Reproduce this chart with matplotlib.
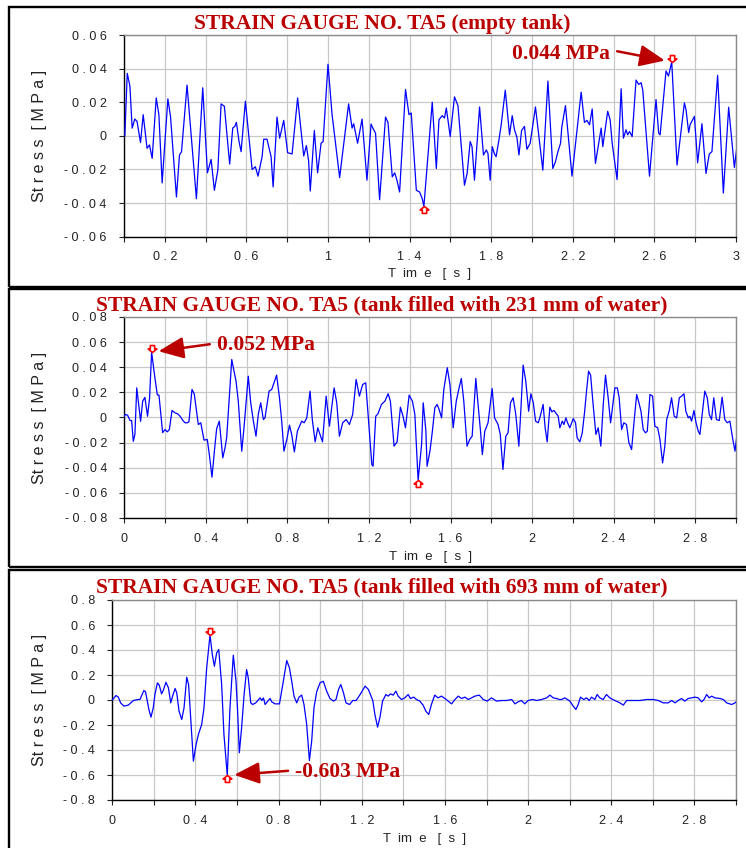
import numpy as np
import matplotlib
matplotlib.use("Agg")
import matplotlib.pyplot as plt
from matplotlib.patches import Rectangle
from matplotlib.path import Path


# DATOS - tiempo [s] y tension [MPa] de la galga TA5
titles = ["STRAIN GAUGE NO. TA5 (empty tank)",
          "STRAIN GAUGE NO. TA5 (tank filled with 231 mm of water)",
          "STRAIN GAUGE NO. TA5 (tank filled with 693 mm of water)"]

t1 = [0.004, 0.016, 0.029, 0.040, 0.053, 0.064, 0.081, 0.094, 0.113, 0.125, 0.138, 0.158, 0.171, 0.187,
      0.215, 0.228, 0.257, 0.272, 0.282, 0.309, 0.355, 0.386, 0.409, 0.427, 0.443, 0.460, 0.476, 0.492,
      0.518, 0.533, 0.543, 0.551, 0.564, 0.574, 0.595, 0.628, 0.644, 0.657, 0.677, 0.685, 0.701, 0.721,
      0.731, 0.750, 0.763, 0.783, 0.802, 0.824, 0.851, 0.873, 0.881, 0.894, 0.905, 0.913, 0.933, 0.949,
      0.966, 0.976, 1.000, 1.020, 1.057, 1.101, 1.118, 1.126, 1.145, 1.167, 1.191, 1.211, 1.220, 1.233,
      1.253, 1.282, 1.294, 1.315, 1.327, 1.338, 1.351, 1.380, 1.397, 1.408, 1.433, 1.449, 1.462, 1.470,
      1.511, 1.531, 1.544, 1.560, 1.571, 1.580, 1.599, 1.620, 1.637, 1.669, 1.682, 1.697, 1.706, 1.718,
      1.743, 1.762, 1.776, 1.784, 1.795, 1.805, 1.816, 1.824, 1.838, 1.849, 1.869, 1.890, 1.903, 1.914,
      1.926, 1.936, 1.949, 1.963, 1.975, 1.991, 2.017, 2.053, 2.078, 2.102, 2.115, 2.127, 2.140, 2.146,
      2.164, 2.196, 2.241, 2.257, 2.269, 2.282, 2.295, 2.311, 2.339, 2.347, 2.371, 2.383, 2.393, 2.417,
      2.437, 2.448, 2.461, 2.469, 2.478, 2.491, 2.510, 2.523, 2.535, 2.543, 2.576, 2.608, 2.621, 2.628,
      2.657, 2.669, 2.685, 2.711, 2.747, 2.755, 2.768, 2.775, 2.796, 2.812, 2.833, 2.853, 2.869, 2.882,
      2.910, 2.938, 2.964, 2.992, 3.005]
s1 = [0.0, 0.0372, 0.0296, 0.0046, 0.010, 0.0086, -0.004, 0.0126, -0.0074, -0.0054, -0.0134, 0.0226, 0.0126, -0.028,
      0.022, 0.0116, -0.0364, -0.0114, -0.0094, 0.0302, -0.0374, 0.0286, -0.022, -0.014, -0.0324, -0.0204, 0.019, 0.0176,
      -0.0168, 0.0046, 0.0056, 0.008, -0.0034, -0.0094, 0.0206, -0.020, -0.0184, -0.024, -0.0124, -0.002, -0.002, -0.0124,
      -0.0304, 0.0112, -0.0014, 0.0092, -0.010, -0.0108, 0.0226, -0.0024, -0.012, -0.0058, -0.015, -0.0328, 0.0032, -0.022,
      -0.0044, -0.0034, 0.0426, 0.0126, -0.0248, 0.019, 0.0046, 0.0072, -0.0044, 0.010, -0.0264, 0.007, 0.0046, 0.0016,
      -0.038, 0.0112, 0.008, -0.0244, -0.022, -0.0264, -0.0334, 0.0276, 0.0126, 0.0136, -0.0324, -0.0334, -0.0374, -0.042,
      0.020, -0.0194, 0.0096, 0.012, 0.0106, 0.0166, -0.0004, 0.0232, 0.018, -0.0294, -0.0224, -0.0034, -0.0064, -0.0264,
      0.0172, -0.0114, -0.0084, -0.0104, -0.0264, -0.0064, -0.0108, -0.0124, -0.0024, 0.0066, 0.0272, 0.0006, 0.012, 0.0036,
      -0.0008, -0.0114, 0.0032, 0.0056, -0.008, -0.0044, 0.0172, -0.0204, 0.0326, -0.0194, -0.0154, -0.0094, -0.0044, 0.0052,
      0.018, -0.024, 0.026, 0.008, 0.0092, 0.0066, 0.016, -0.0164, 0.0046, -0.0064, 0.0146, 0.0096, -0.0044, -0.026,
      0.028, -0.0014, 0.0036, 0.0006, 0.0026, -0.0004, 0.0332, 0.0306, 0.0316, 0.0272, -0.024, 0.0216, 0.0016, 0.0006,
      0.0386, 0.0356, 0.044, -0.0174, 0.0196, 0.0156, 0.002, 0.0066, 0.0116, -0.016, 0.0072, -0.0224, -0.0108, -0.0094,
      0.036, -0.034, 0.017, -0.0188, -0.006]

t2 = [0.000, 0.005, 0.016, 0.028, 0.036, 0.044, 0.052, 0.061, 0.080, 0.090, 0.101, 0.114, 0.124, 0.134,
      0.150, 0.162, 0.170, 0.188, 0.200, 0.211, 0.221, 0.234, 0.249, 0.262, 0.273, 0.290, 0.298, 0.309,
      0.317, 0.332, 0.343, 0.363, 0.375, 0.391, 0.407, 0.417, 0.430, 0.445, 0.453, 0.466, 0.483, 0.494,
      0.502, 0.515, 0.527, 0.538, 0.548, 0.559, 0.576, 0.587, 0.608, 0.620, 0.633, 0.646, 0.657, 0.669,
      0.682, 0.690, 0.710, 0.723, 0.734, 0.747, 0.761, 0.772, 0.783, 0.797, 0.810, 0.821, 0.834, 0.849,
      0.870, 0.882, 0.895, 0.911, 0.922, 0.936, 0.949, 0.960, 0.972, 0.990, 1.006, 1.029, 1.042, 1.055,
      1.071, 1.088, 1.104, 1.120, 1.137, 1.153, 1.169, 1.184, 1.202, 1.214, 1.220, 1.233, 1.244, 1.261,
      1.278, 1.294, 1.305, 1.323, 1.338, 1.354, 1.367, 1.379, 1.397, 1.413, 1.425, 1.441, 1.458, 1.466,
      1.479, 1.485, 1.499, 1.510, 1.523, 1.534, 1.544, 1.556, 1.567, 1.584, 1.597, 1.613, 1.628, 1.642,
      1.653, 1.665, 1.681, 1.694, 1.706, 1.724, 1.735, 1.747, 1.756, 1.768, 1.784, 1.804, 1.816, 1.833,
      1.844, 1.857, 1.871, 1.882, 1.894, 1.907, 1.920, 1.935, 1.945, 1.956, 1.969, 1.983, 1.994, 2.006,
      2.017, 2.030, 2.038, 2.054, 2.064, 2.074, 2.087, 2.097, 2.107, 2.116, 2.128, 2.136, 2.148, 2.156,
      2.166, 2.174, 2.185, 2.202, 2.213, 2.221, 2.234, 2.246, 2.257, 2.267, 2.277, 2.287, 2.300, 2.313,
      2.324, 2.337, 2.349, 2.360, 2.373, 2.385, 2.395, 2.406, 2.418, 2.427, 2.439, 2.450, 2.463, 2.475,
      2.488, 2.501, 2.513, 2.524, 2.534, 2.545, 2.556, 2.565, 2.578, 2.591, 2.602, 2.616, 2.627, 2.640,
      2.651, 2.660, 2.673, 2.684, 2.697, 2.709, 2.722, 2.733, 2.745, 2.754, 2.766, 2.774, 2.782, 2.794,
      2.804, 2.815, 2.823, 2.834, 2.847, 2.859, 2.869, 2.880, 2.891, 2.904, 2.918, 2.932, 2.945, 2.957,
      2.970, 2.983, 2.995, 3.008]
s2 = [0.001, 0.0024, 0.0019, -0.0024, -0.0024, -0.019, -0.0135, 0.0236, -0.003, 0.013, 0.016, 0.001, 0.0157, 0.052,
      0.0316, 0.018, 0.0178, -0.012, -0.0096, -0.0114, -0.0096, 0.0056, 0.0037, 0.0029, 0.0011, -0.0029, -0.0042, -0.0042,
      -0.0034, 0.0223, 0.0189, -0.0056, -0.0042, -0.018, -0.0175, -0.0295, -0.0475, -0.0215, -0.0088, -0.0029, -0.0321, -0.0242,
      -0.0162, 0.0157, 0.0462, 0.0369, 0.029, 0.013, -0.0268, -0.0082, 0.0329, 0.0117, -0.0029, -0.0149, 0.0024, 0.0117,
      -0.0016, -0.0003, 0.021, 0.0223, 0.0276, 0.0337, 0.0157, -0.0029, -0.0268, -0.0175, -0.0061, -0.0135, -0.0274, -0.0109,
      -0.0029, -0.0042, -0.0003, 0.021, -0.0016, -0.0194, -0.0082, -0.0135, -0.0194, 0.017, -0.0069, 0.0236, 0.0117, -0.0149,
      -0.0042, -0.0016, -0.0056, 0.0024, 0.0303, 0.017, 0.0263, 0.0276, -0.0109, -0.0374, -0.0388, 0.001, 0.0029, 0.0104,
      0.013, 0.0189, 0.013, -0.0228, -0.0194, 0.0082, 0.001, -0.0082, 0.0178, 0.013, 0.0024, -0.050, -0.0215, 0.0117,
      -0.0104, -0.0388, -0.0268, -0.0122, 0.0077, 0.0104, 0.0064, -0.0003, 0.0223, 0.0396, 0.0263, -0.0082, 0.013, 0.0236,
      0.0311, 0.013, -0.0228, -0.0175, -0.0149, 0.0311, 0.0104, -0.0109, -0.0295, -0.0109, -0.0042, 0.0231, -0.0003, -0.0056,
      -0.0135, -0.0414, -0.0149, -0.0122, 0.0117, 0.0157, 0.0024, -0.0228, 0.0064, 0.0417, 0.029, 0.005, 0.0189, 0.0117,
      -0.0029, -0.0042, -0.0003, 0.0104, -0.0082, -0.0194, 0.0082, 0.0045, 0.0056, 0.0037, 0.001, -0.0082, -0.0029, -0.0056,
      -0.0003, -0.0042, -0.0082, -0.0008, -0.0042, -0.0162, -0.0194, -0.0122, 0.0037, 0.021, 0.0369, 0.0337, 0.009, -0.0135,
      -0.0082, -0.0228, 0.0104, 0.0337, 0.0157, -0.0042, 0.009, 0.0236, 0.0236, 0.0157, -0.0096, -0.0042, -0.0056, -0.0202,
      -0.0255, -0.0016, 0.0183, 0.0117, 0.005, -0.0096, -0.0122, -0.0109, 0.0183, 0.017, -0.0069, -0.0082, -0.0175, -0.0361,
      -0.0228, -0.0016, 0.0056, 0.0157, 0.001, -0.0003, 0.0157, 0.017, 0.0189, 0.005, -0.0003, 0.001, -0.0029, 0.0056,
      -0.0042, -0.0109, -0.0135, 0.0024, 0.021, 0.0157, 0.0024, -0.0016, 0.0157, -0.0016, -0.0024, 0.0162, -0.0016, -0.0042,
      -0.0029, -0.0162, -0.0268, -0.0096]

t3 = [0.000, 0.018, 0.029, 0.040, 0.056, 0.077, 0.101, 0.125, 0.133, 0.152, 0.160, 0.176, 0.186, 0.197,
      0.205, 0.217, 0.226, 0.237, 0.245, 0.258, 0.270, 0.281, 0.290, 0.302, 0.310, 0.321, 0.334, 0.345,
      0.358, 0.367, 0.377, 0.390, 0.403, 0.414, 0.430, 0.441, 0.454, 0.470, 0.481, 0.491, 0.502, 0.512,
      0.526, 0.537, 0.553, 0.566, 0.582, 0.595, 0.602, 0.611, 0.622, 0.634, 0.646, 0.654, 0.666, 0.675,
      0.690, 0.700, 0.711, 0.719, 0.727, 0.735, 0.748, 0.759, 0.767, 0.783, 0.804, 0.820, 0.839, 0.852,
      0.863, 0.874, 0.887, 0.898, 0.911, 0.922, 0.935, 0.948, 0.959, 0.970, 0.983, 0.999, 1.015, 1.031,
      1.047, 1.064, 1.076, 1.088, 1.099, 1.112, 1.124, 1.141, 1.157, 1.173, 1.192, 1.216, 1.232, 1.253,
      1.263, 1.276, 1.287, 1.300, 1.316, 1.327, 1.338, 1.351, 1.364, 1.375, 1.391, 1.407, 1.423, 1.434,
      1.450, 1.463, 1.479, 1.495, 1.508, 1.522, 1.535, 1.551, 1.567, 1.583, 1.600, 1.616, 1.632, 1.648,
      1.664, 1.680, 1.696, 1.712, 1.728, 1.744, 1.765, 1.784, 1.803, 1.824, 1.848, 1.872, 1.896, 1.921,
      1.937, 1.952, 1.968, 1.984, 2.000, 2.021, 2.041, 2.065, 2.089, 2.105, 2.121, 2.137, 2.150, 2.161,
      2.177, 2.201, 2.217, 2.230, 2.241, 2.252, 2.268, 2.281, 2.294, 2.305, 2.321, 2.332, 2.345, 2.361,
      2.377, 2.393, 2.417, 2.442, 2.458, 2.474, 2.506, 2.538, 2.570, 2.602, 2.626, 2.650, 2.674, 2.690,
      2.707, 2.722, 2.738, 2.754, 2.770, 2.786, 2.802, 2.818, 2.835, 2.846, 2.859, 2.871, 2.883, 2.899,
      2.923, 2.939, 2.955, 2.979, 2.995, 3.008]
s3 = [0.0, 0.036, 0.023, -0.023, -0.049, -0.041, -0.004, 0.004, 0.004, 0.076, 0.065, -0.076, -0.137, -0.063,
      0.044, 0.137, 0.118, 0.049, 0.076, 0.142, 0.097, -0.023, 0.031, 0.092, 0.057, -0.089, -0.156, -0.063,
      0.182, 0.124, -0.142, -0.489, -0.356, -0.276, -0.196, -0.063, 0.257, 0.52, 0.364, 0.270, 0.377, 0.404,
      0.124, -0.276, -0.603, -0.063, 0.358, 0.150, -0.063, -0.422, -0.222, 0.044, 0.244, 0.177, -0.023, -0.036,
      -0.023, -0.004, 0.017, -0.004, 0.017, -0.036, -0.009, 0.012, -0.015, -0.031, -0.031, 0.124, 0.316, 0.257,
      0.150, 0.031, -0.023, 0.023, 0.039, -0.036, -0.196, -0.484, -0.329, -0.063, 0.065, 0.137, 0.150, 0.071,
      0.012, -0.009, 0.004, 0.084, 0.124, 0.057, -0.023, -0.036, -0.004, -0.004, 0.044, 0.111, 0.084, -0.004,
      -0.116, -0.217, -0.142, -0.009, 0.044, 0.031, 0.049, 0.039, 0.071, 0.031, 0.004, 0.017, 0.044, 0.012,
      0.023, 0.004, -0.009, -0.041, -0.089, -0.116, -0.036, 0.039, 0.017, 0.031, 0.012, -0.009, -0.031, 0.004,
      0.031, 0.012, 0.023, 0.004, 0.017, 0.031, 0.039, 0.004, -0.009, 0.017, -0.009, -0.004, -0.004, 0.004,
      -0.031, -0.015, -0.004, -0.031, -0.004, 0.004, -0.004, 0.004, 0.017, 0.039, 0.017, 0.012, 0.004, 0.004,
      0.017, -0.009, -0.049, -0.076, -0.036, 0.023, 0.004, 0.017, -0.004, 0.023, 0.004, 0.044, 0.017, 0.004,
      0.044, 0.017, -0.004, -0.023, -0.041, -0.004, -0.004, -0.004, 0.004, 0.004, -0.004, -0.023, -0.023, -0.004,
      -0.023, -0.004, 0.012, -0.009, 0.012, 0.017, 0.023, 0.017, -0.015, 0.004, 0.044, 0.017, 0.031, 0.017,
      0.012, 0.004, -0.023, -0.036, -0.023, -0.004]

# valores extremos marcados y el que se rotula con flecha
peak1, low1 = 0.044, -0.042
peak2, low2 = 0.052, -0.050
peak3, low3 = 0.52, -0.603
notes = ["0.044 MPa", "0.052 MPa", "-0.603 MPa"]

# ejes Y de cada panel
ylims = [(-0.06, 0.06), (-0.08, 0.08), (-0.8, 0.8)]
ysteps = [0.02, 0.02, 0.2]

# COLORES
blue = "#0000ff"
red = "#ff0000"
dark_red = "#bb0000"
grid_gray = "#c8c8c8"
text_gray = "#222222"

W, H = 746, 848

# marcadores tipo "casita": punta en el dato
up_verts = [(0, 0), (-1, -0.8), (-0.5, -0.8), (-0.5, -1.6), (0.5, -1.6), (0.5, -0.8), (1, -0.8), (0, 0)]
down_verts = [(x, -y) for x, y in up_verts]
codes = [Path.MOVETO] + [Path.LINETO] * 6 + [Path.CLOSEPOLY]
marker_low = Path(up_verts, codes)
marker_high = Path(down_verts, codes)


def spaced(v):
    # etiquetas con los caracteres separados
    txt = "0" if abs(v) < 1e-9 else ("%.2f" % v).rstrip("0").rstrip(".")
    return " ".join(txt)


def fx(px):
    return px / W


def fy(py):
    return 1 - py / H


fig = plt.figure(figsize=(W / 100, H / 100), dpi=100)

# cajas de cada panel
boxes = [(7, 287), (289, 567), (570, 870)]
for top, bottom in boxes:
    fig.add_artist(Rectangle((fx(8.5), fy(bottom)), 1.2, (bottom - top) / H, transform=fig.transFigure,
                             fill=False, edgecolor="black", lw=1.7, clip_on=False))

# posicion de los ejes en pixeles (izq, der, arriba, abajo)
axes_px = [(124, 736, 35, 236.7), (124.3, 736, 317, 518), (112.3, 736, 600, 800)]
series = [(t1, s1), (t2, s2), (t3, s3)]
extremes = [(peak1, low1), (peak2, low2), (peak3, low3)]
title_base = [28.5, 310.5, 592.5]
note_pos = [(512.3, 59.3), (216.7, 350.3), (295, 777.3)]
note_target = ["high", "high", "low"]
note_relpos = [(1.0, 0.72), (0.0, 0.6), (0.0, 0.6)]
xlabel_y = [268, 551, 833]

for i in range(3):
    l, r, tp, bt = axes_px[i]
    ax = fig.add_axes([fx(l), fy(bt), (r - l) / W, (bt - tp) / H])
    t, s = series[i]
    ax.plot(t, s, color=blue, lw=0.9, zorder=3)
    ax.set_xlim(0, 3.0)
    ax.set_ylim(*ylims[i])

    # marcas en maximo y minimo
    hi, lo = extremes[i]
    t_hi = t[int(np.argmax(s))]
    t_lo = t[int(np.argmin(s))]
    ax.plot([t_hi], [hi], marker=marker_high, ms=10, mfc="white", mec=red, mew=1.2, zorder=5, clip_on=False)
    ax.plot([t_lo], [lo], marker=marker_low, ms=10, mfc="white", mec=red, mew=1.2, zorder=5, clip_on=False)

    # ticks: rejilla cada 0.2 s, etiqueta cada 0.4 s
    xt = np.round(np.arange(0, 3.01, 0.2), 2)
    ax.set_xticks(xt)
    if i == 0:
        xlab = [spaced(v) if round((v - 0.2) / 0.4, 3) % 1 == 0 else "" for v in xt]
    else:
        xlab = [spaced(v) if round(v / 0.4, 3) % 1 == 0 else "" for v in xt]
    ax.set_xticklabels(xlab)
    ylo, yhi = ylims[i]
    yt = np.round(np.arange(ylo, yhi + ysteps[i] / 2, ysteps[i]), 3)
    ax.set_yticks(yt)
    ax.set_yticklabels([spaced(v) for v in yt])
    ax.tick_params(labelsize=9, colors=text_gray, length=3.5, width=0.8, direction="out")
    ax.tick_params(axis="x", pad=7)
    ax.tick_params(axis="y", pad=9)
    for lab in ax.get_xticklabels() + ax.get_yticklabels():
        lab.set_fontfamily("Liberation Sans")

    ax.grid(True, color=grid_gray, lw=0.9)
    ax.set_axisbelow(True)
    ax.spines["left"].set_color("black")
    ax.spines["bottom"].set_color("black")
    ax.spines["top"].set_color("#8a8a8a")
    ax.spines["right"].set_color("#8a8a8a")
    for sp in ax.spines.values():
        sp.set_linewidth(1.0)

    ax.set_ylabel("St r e s s  [ M P a ]", fontsize=11.5, family="Liberation Sans", color=text_gray)
    ax.yaxis.set_label_coords((47 - l) / (r - l), 0.5)
    ax.set_xlabel("T  im  e   [  s  ]", fontsize=9.5, family="Liberation Sans", color=text_gray)
    ax.xaxis.set_label_coords(0.5, (bt - xlabel_y[i]) / (bt - tp))

    # titulo
    fig.text(fx(382), fy(title_base[i]), titles[i], ha="center", va="baseline", color=dark_red,
             fontsize=15.5, fontweight="bold", family="Liberation Serif")

    # rotulo con flecha hacia el extremo
    if note_target[i] == "high":
        xy = (t_hi, hi)
    else:
        xy = (t_lo, lo)
    nx, ny = note_pos[i]
    ax.annotate(notes[i], xy=xy, xycoords="data", xytext=(fx(nx), fy(ny)), textcoords="figure fraction",
                ha="left", va="baseline", color=dark_red, fontsize=15.5, fontweight="bold",
                family="Liberation Serif", annotation_clip=False,
                arrowprops=dict(arrowstyle="-|>,head_length=1.4,head_width=0.6", color=dark_red,
                                lw=1.8, mutation_scale=11, shrinkA=3, shrinkB=5,
                                relpos=note_relpos[i]))

fig.savefig("out.png", dpi=100)
